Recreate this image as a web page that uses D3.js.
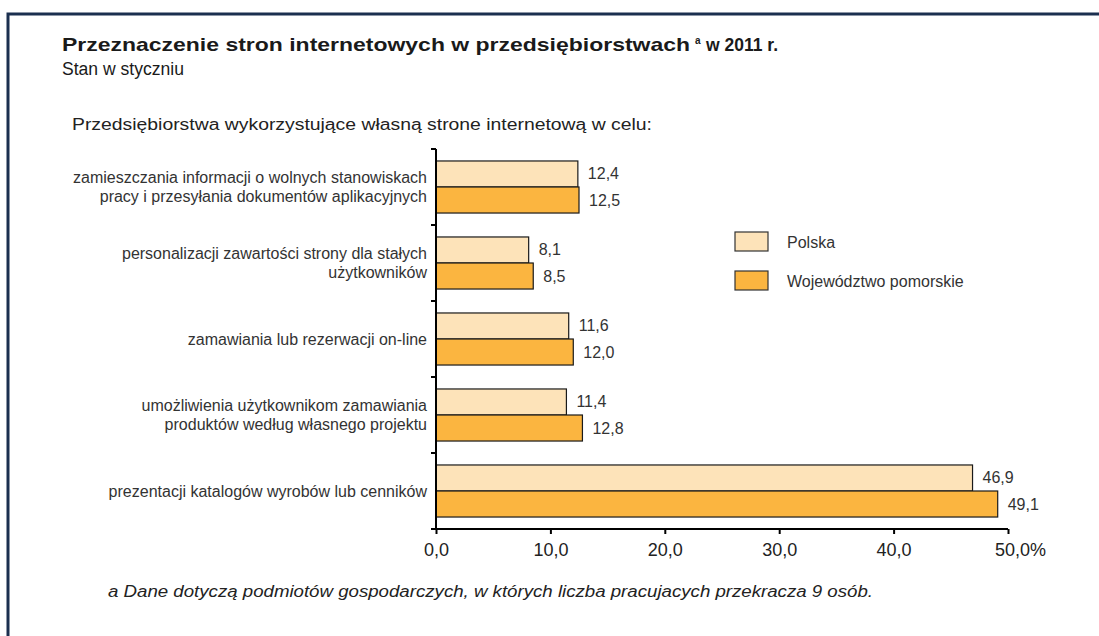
<!DOCTYPE html>
<html>
<head>
<meta charset="utf-8">
<script src="https://cdn.jsdelivr.net/npm/d3@7"></script>
<style>
  html, body { margin: 0; padding: 0; background: #fff; }
  svg { display: block; font-family: "Liberation Sans", Arial, sans-serif; }
</style>
</head>
<body>
<svg id="chart" width="1099" height="636"></svg>
<script>
const categories = [
  ["zamieszczania informacji o wolnych stanowiskach", "pracy i przesyłania dokumentów aplikacyjnych"],
  ["personalizacji zawartości strony dla stałych", "użytkowników"],
  ["zamawiania lub rezerwacji on-line"],
  ["umożliwienia użytkownikom zamawiania", "produktów według własnego projektu"],
  ["prezentacji katalogów wyrobów lub cenników"]
];
const seriesNames = ["Polska", "Województwo pomorskie"];
const polska = [12.4, 8.1, 11.6, 11.4, 46.9];
const pomorskie = [12.5, 8.5, 12.0, 12.8, 49.1];
const xTicks = [0, 10, 20, 30, 40, 50];
const colors = ["#fde3b9", "#fbb540"];

const svg = d3.select("#chart");
const fmt = v => d3.format(".1f")(v).replace(".", ",");

// frame
svg.append("path")
  .attr("d", "M8,636 L8,14 L1099,14")
  .attr("fill", "none").attr("stroke", "#1b2f4f").attr("stroke-width", 3);

// titles
svg.append("text").attr("x", 62).attr("y", 51)
  .attr("font-size", 19).attr("font-weight", "bold").attr("fill", "#1a1a1a")
  .attr("textLength", 628).attr("lengthAdjust", "spacingAndGlyphs")
  .text("Przeznaczenie stron internetowych w przedsiębiorstwach");
svg.append("text").attr("x", 695).attr("y", 44)
  .attr("font-size", 10).attr("font-weight", "bold").attr("fill", "#1a1a1a").text("a");
svg.append("text").attr("x", 706).attr("y", 51)
  .attr("font-size", 19).attr("font-weight", "bold").attr("fill", "#1a1a1a")
  .attr("textLength", 72).attr("lengthAdjust", "spacingAndGlyphs")
  .text("w 2011 r.");
svg.append("text").attr("x", 62).attr("y", 75).attr("font-size", 18)
  .attr("fill", "#1a1a1a").attr("textLength", 122).attr("lengthAdjust", "spacingAndGlyphs")
  .text("Stan w styczniu");
svg.append("text").attr("x", 72).attr("y", 130).attr("font-size", 16)
  .attr("fill", "#222").attr("textLength", 580).attr("lengthAdjust", "spacingAndGlyphs")
  .text("Przedsiębiorstwa wykorzystujące własną strone internetową w celu:");

// scales
const x = d3.scaleLinear().domain([0, 50]).range([436, 1008]);
const y = d3.scaleBand().domain(d3.range(categories.length)).range([149, 529]).paddingInner(0).paddingOuter(0);
const inner = d3.scaleBand().domain([0, 1]).range([0, y.bandwidth()]).paddingOuter(0.46).paddingInner(0);

const data = categories.map((c, i) => ({ i, vals: [polska[i], pomorskie[i]] }));

const g = svg.append("g");
const grp = g.selectAll("g.cat").data(data).join("g")
  .attr("transform", d => `translate(0,${y(d.i)})`);

grp.selectAll("rect").data(d => d.vals.map((v, k) => ({ v, k }))).join("rect")
  .attr("x", x(0)).attr("y", d => inner(d.k))
  .attr("width", d => x(d.v) - x(0)).attr("height", inner.bandwidth())
  .attr("fill", d => colors[d.k]).attr("stroke", "#1a1a1a").attr("stroke-width", 1.2);

grp.selectAll("text.val").data(d => d.vals.map((v, k) => ({ v, k }))).join("text")
  .attr("class", "val")
  .attr("x", d => x(d.v) + 10).attr("y", d => inner(d.k) + inner.bandwidth() / 2 + 5.5)
  .attr("font-size", 16).attr("fill", "#333").text(d => fmt(d.v));

// category labels
grp.each(function (d) {
  const lines = categories[d.i];
  const cy = y.bandwidth() / 2;
  const lh = 19;
  const txt = d3.select(this).append("text").attr("text-anchor", "end")
    .attr("font-size", 16).attr("fill", "#333");
  lines.forEach((l, j) => {
    txt.append("tspan").attr("x", 427)
      .attr("y", cy + 5.5 + (j - (lines.length - 1) / 2) * lh).text(l);
  });
});

// y axis
const yAxisG = svg.append("g");
yAxisG.append("line").attr("x1", x(0)).attr("x2", x(0)).attr("y1", 149).attr("y2", 529)
  .attr("stroke", "#000").attr("stroke-width", 2);
yAxisG.selectAll("line.tk").data(d3.range(categories.length + 1)).join("line")
  .attr("class", "tk")
  .attr("x1", x(0) - 5).attr("x2", x(0))
  .attr("y1", i => 149 + i * y.step()).attr("y2", i => 149 + i * y.step())
  .attr("stroke", "#000").attr("stroke-width", 2);

// x axis
const xAxis = d3.axisBottom(x).tickValues(xTicks)
  .tickFormat(v => v === 50 ? fmt(v) + "%" : fmt(v)).tickSize(5).tickPadding(9);
const xg = svg.append("g").attr("transform", "translate(0,529)").call(xAxis);
xg.select(".domain").attr("stroke", "#000").attr("stroke-width", 2).attr("d", `M${x(0)},0H${x(50)}`);
xg.selectAll(".tick line").attr("stroke", "#000").attr("stroke-width", 2);
xg.selectAll(".tick text").attr("font-size", 18).attr("fill", "#222")
  .attr("font-family", "Liberation Sans, Arial, sans-serif");
xg.selectAll(".tick").filter(v => v === 50).select("text").attr("dx", 12);

// legend
const leg = svg.append("g").attr("transform", "translate(735,232)");
seriesNames.forEach((n, k) => {
  leg.append("rect").attr("x", 0).attr("y", k * 39).attr("width", 33).attr("height", 19)
    .attr("fill", colors[k]).attr("stroke", "#333").attr("stroke-width", 1.2);
  leg.append("text").attr("x", 52).attr("y", k * 39 + 15.5).attr("font-size", 16)
    .attr("fill", "#333").text(n);
});

// footnote
svg.append("text").attr("x", 108).attr("y", 597).attr("font-size", 16)
  .attr("font-style", "italic").attr("fill", "#222")
  .attr("textLength", 765).attr("lengthAdjust", "spacingAndGlyphs")
  .text("a Dane dotyczą podmiotów gospodarczych, w których liczba pracujacych przekracza 9 osób.");
</script>
</body>
</html>
